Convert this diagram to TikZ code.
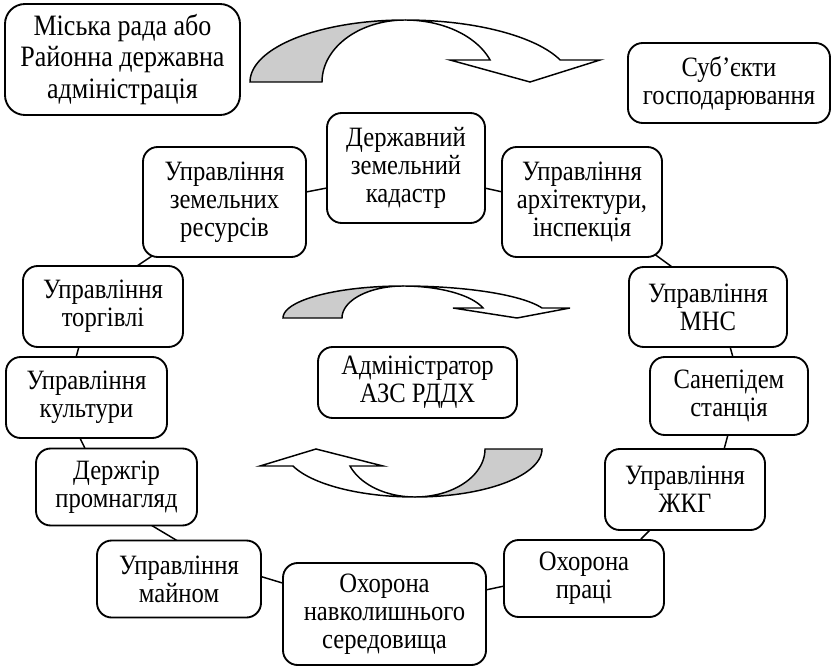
\documentclass[tikz,border=0pt]{standalone}
\usepackage{fontspec}
\setmainfont{Liberation Serif}[FakeStretch=0.88]
\usetikzlibrary{calc,backgrounds}
\begin{document}
\begin{tikzpicture}[x=0.75pt,y=-0.75pt,
  box/.style={draw, line width=1.4pt, rounded corners=11pt, fill=white, align=center, inner sep=0pt,
              font=\fontsize{21}{21}\selectfont},
  sz/.style 2 args={minimum width=#1*0.75pt, minimum height=#2*0.75pt},
  link/.style={draw, line width=1.1pt},
  arr/.style={draw, line width=1.1pt, line join=miter},
  backface/.style={arr, fill=gray!40},
  frontface/.style={arr, fill=white}]
\useasboundingbox (0,0) rectangle (834,666);

% boxes
\node[box, sz={235}{111}, rounded corners=15pt, font=\fontsize{22.2}{23.3}\selectfont] (mis) at (122.5,59.5) {Міська рада або\\Районна державна\\адміністрація};
\node[box, sz={202}{80}] (sub) at (729,83) {Суб’єкти\\господарювання};
\node[box, sz={158}{110}] (derzh) at (406,168) {Державний\\земельний\\кадастр};
\node[box, sz={163}{110}] (zem) at (224.5,202) {Управління\\земельних\\ресурсів};
\node[box, sz={160}{110}] (arch) at (582,202) {Управління\\архітектури,\\інспекція};
\node[box, sz={160}{81}] (torg) at (103,306.5) {Управління\\торгівлі};
\node[box, sz={158}{80}] (mns) at (708,307) {Управління\\МНС};
\node[box, sz={161}{81}] (kult) at (86.5,397.5) {Управління\\культури};
\node[box, sz={199}{71}] (adm) at (417.5,382.5) {Адміністратор\\АЗС РДДХ};
\node[box, sz={158}{78}] (san) at (729,396) {Санепідем\\станція};
\node[box, sz={161}{77}] (derzhgir) at (116.5,487) {Держгір\\промнагляд};
\node[box, sz={160}{81}] (zhkg) at (685,489.5) {Управління\\ЖКГ};
\node[box, sz={164}{77}] (mainom) at (179,579) {Управління\\майном};
\node[box, sz={160}{77}] (prats) at (584,578.5) {Охорона\\праці};
\node[box, sz={203}{102}] (navk) at (384.5,614) {Охорона\\навколишнього\\середовища};

% connectors (behind the boxes)
\begin{scope}[on background layer]
\draw[link] ($(zem.east)+(-6,-9)$) -- ($(derzh.west)+(6,19)$);
\draw[link] ($(derzh.east)+(-6,19)$) -- ($(arch.west)+(6,-9)$);
\draw[link] ($(arch.south east)+(-17,-10)$) -- ($(mns.north west)+(51,6)$);
\draw[link] ($(zem.south west)+(16,-6)$) -- ($(torg.north)+(28,5)$);
\draw[link] ($(torg.south)+(-23,-5)$) -- ($(kult.north)+(-11.5,5)$);
\draw[link] ($(mns.south)+(21,-5)$) -- ($(san.north)+(5,5)$);
\draw[link] ($(kult.south)+(-8.5,-5)$) -- ($(derzhgir.north)+(-29.5,5)$);
\draw[link] ($(san.south)+(0,-5)$) -- ($(zhkg.north)+(38,5)$);
\draw[link] ($(derzhgir.south)+(28.5,-5)$) -- ($(mainom.north)+(3,4)$);
\draw[link] ($(zhkg.south)+(-33,-3)$) -- ($(prats.north)+(52,5)$);
\draw[link] ($(mainom.east)+(-6,-4)$) -- ($(navk.west)+(7,-29)$);
\draw[link] ($(navk.east)+(-6,-23)$) -- ($(prats.west)+(6,6.5)$);
\end{scope}

% top curved arrow
\draw[backface] plot[domain=180:90, samples=40, variable=\t] ({405+155*cos(\t)},{82-62*sin(\t)})
  -- plot[domain=90:180, samples=40, variable=\t] ({405+83*cos(\t)},{82-62*sin(\t)}) -- cycle;
\draw[frontface] plot[domain=90:20.78, samples=40, variable=\t] ({405+166*cos(\t)},{82-62*sin(\t)})
  -- (600,60) -- (530,82) -- (450,60)
  -- plot[domain=20.78:90, samples=40, variable=\t] ({405+91*cos(\t)},{82-62*sin(\t)}) -- cycle;

% middle curved arrow
\draw[backface] plot[domain=180:90, samples=40, variable=\t] ({403+120*cos(\t)},{318-32*sin(\t)})
  -- plot[domain=90:180, samples=40, variable=\t] ({403+61*cos(\t)},{318-32*sin(\t)}) -- cycle;
\draw[frontface] plot[domain=90:18.21, samples=40, variable=\t] ({403+146.3*cos(\t)},{318-32*sin(\t)})
  -- (570,308) -- (517,318) -- (453,308)
  -- plot[domain=18.21:90, samples=40, variable=\t] ({403+84.2*cos(\t)},{318-32*sin(\t)}) -- cycle;

% bottom curved arrow
\draw[backface] plot[domain=0:90, samples=40, variable=\t] ({415+127*cos(\t)},{449+48*sin(\t)})
  -- plot[domain=90:0, samples=40, variable=\t] ({415+70*cos(\t)},{449+48*sin(\t)}) -- cycle;
\draw[frontface] plot[domain=90:159.26, samples=40, variable=\t] ({415+130.5*cos(\t)},{449+48*sin(\t)})
  -- (260,466) -- (316,449) -- (383,466)
  -- plot[domain=159.26:90, samples=40, variable=\t] ({415+69.5*cos(\t)},{449+48*sin(\t)}) -- cycle;
\end{tikzpicture}
\end{document}
